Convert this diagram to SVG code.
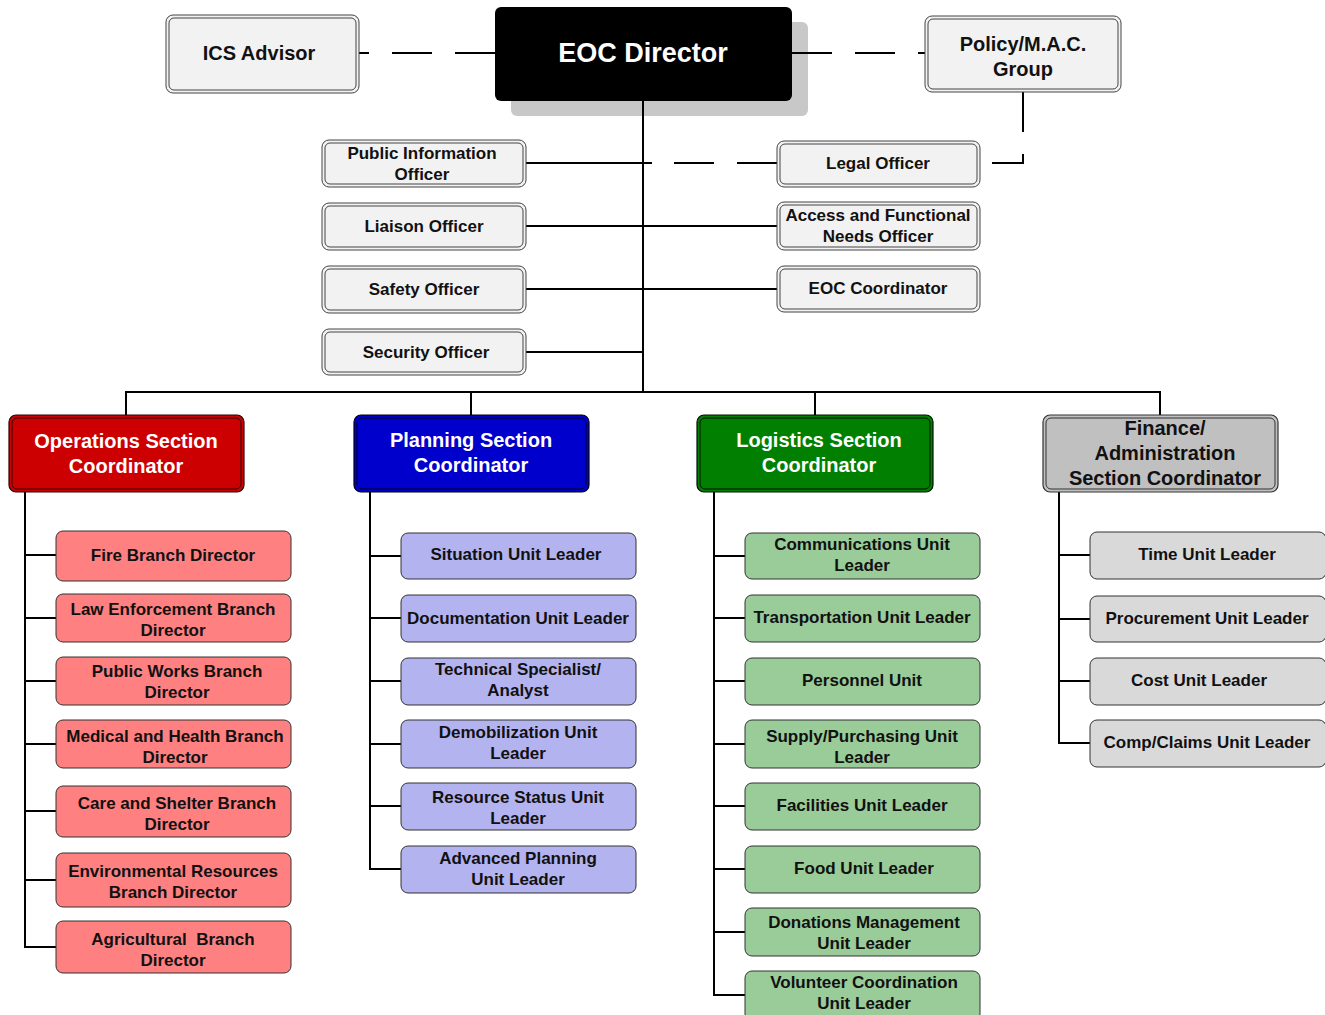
<svg xmlns="http://www.w3.org/2000/svg" width="1325" height="1015" viewBox="0 0 1325 1015">
<style>
text{font-family:"Liberation Sans",Arial,sans-serif;font-weight:bold;text-anchor:middle;fill:#111}
.ln{stroke:#000;stroke-width:2;fill:none}
.dash{stroke:#000;stroke-width:2;fill:none;stroke-dasharray:40 23}
.o1{fill:#f2f2f2;stroke:#444;stroke-width:1}
.o2{fill:none;stroke:#444;stroke-width:1}
.t16{font-size:17px}
.t20{font-size:20px}
.sec{font-size:20px;fill:#fff}
.red{fill:#ff8080;stroke:#333;stroke-width:1}
.blu{fill:#b3b3f0;stroke:#333;stroke-width:1}
.grn{fill:#99cc99;stroke:#333;stroke-width:1}
.gry{fill:#d9d9d9;stroke:#333;stroke-width:1}
</style>
<rect width="1325" height="1015" fill="#fff"/>
<g id="eoc-director">
<rect x="511" y="22" width="297" height="94" rx="6" fill="#c8c8c8"/>
<rect x="495" y="7" width="297" height="94" rx="6" fill="#000"/>
<text x="643" y="62" style="font-size:27px;fill:#fff">EOC Director</text>
</g>
<g id="connectors">
<line class="ln" x1="643" y1="101" x2="643" y2="392"/>
<path class="dash" d="M495 53 H359"/>
<path class="dash" d="M792 53 H925"/>
<path class="dash" d="M1023 92 V163 H992" style="stroke-dasharray:40 22"/>
<line class="ln" x1="526" y1="163" x2="652" y2="163"/>
<path class="dash" d="M777 163 H652"/>
<line class="ln" x1="526" y1="226" x2="777" y2="226"/>
<line class="ln" x1="526" y1="289" x2="777" y2="289"/>
<line class="ln" x1="526" y1="352" x2="643" y2="352"/>
<path class="ln" d="M126 415 V392 H1160 V415"/>
<line class="ln" x1="471" y1="392" x2="471" y2="415"/>
<line class="ln" x1="815" y1="392" x2="815" y2="415"/>
<path class="ln" d="M25 492 V947 H56 M25 555 H56 M25 618 H56 M25 681 H56 M25 744 H56 M25 811 H56 M25 880 H56"/>
<path class="ln" d="M370 492 V869 H401 M370 556 H401 M370 618 H401 M370 681 H401 M370 744 H401 M370 806 H401"/>
<path class="ln" d="M714 492 V995 H745 M714 556 H745 M714 618 H745 M714 681 H745 M714 744 H745 M714 806 H745 M714 869 H745 M714 932 H745"/>
<path class="ln" d="M1059 492 V743 H1090 M1059 555 H1090 M1059 619 H1090 M1059 681 H1090"/>
</g>
<g id="ics-advisor">
<rect class="o1" x="166" y="15" width="193" height="78" rx="7"/>
<rect class="o2" x="169" y="18" width="187" height="72" rx="5"/>
<text class="t20" x="259" y="60">ICS Advisor</text>
</g>
<g id="policy-mac">
<rect class="o1" x="925" y="16" width="196" height="76" rx="7"/>
<rect class="o2" x="928" y="19" width="190" height="70" rx="5"/>
<text class="t20" x="1023" y="51">Policy/M.A.C.</text>
<text class="t20" x="1023" y="76">Group</text>
</g>
<g id="pio">
<rect class="o1" x="322" y="140" width="204" height="47" rx="7"/>
<rect class="o2" x="325" y="143" width="198" height="41" rx="5"/>
<text class="t16" x="422" y="159">Public Information</text>
<text class="t16" x="422" y="180">Officer</text>
</g>
<g id="liaison">
<rect class="o1" x="322" y="203" width="204" height="47" rx="7"/>
<rect class="o2" x="325" y="206" width="198" height="41" rx="5"/>
<text class="t16" x="424" y="232">Liaison Officer</text>
</g>
<g id="safety">
<rect class="o1" x="322" y="266" width="204" height="47" rx="7"/>
<rect class="o2" x="325" y="269" width="198" height="41" rx="5"/>
<text class="t16" x="424" y="295">Safety Officer</text>
</g>
<g id="security">
<rect class="o1" x="322" y="329" width="204" height="46" rx="7"/>
<rect class="o2" x="325" y="332" width="198" height="40" rx="5"/>
<text class="t16" x="426" y="358">Security Officer</text>
</g>
<g id="legal">
<rect class="o1" x="777" y="141" width="203" height="46" rx="7"/>
<rect class="o2" x="780" y="144" width="197" height="40" rx="5"/>
<text class="t16" x="878" y="169">Legal Officer</text>
</g>
<g id="afn">
<rect class="o1" x="777" y="202" width="203" height="48" rx="7"/>
<rect class="o2" x="780" y="205" width="197" height="42" rx="5"/>
<text class="t16" x="878" y="221">Access and Functional</text>
<text class="t16" x="878" y="242">Needs Officer</text>
</g>
<g id="eoc-coordinator">
<rect class="o1" x="777" y="266" width="203" height="46" rx="7"/>
<rect class="o2" x="780" y="269" width="197" height="40" rx="5"/>
<text class="t16" x="878" y="294">EOC Coordinator</text>
</g>
<g id="operations">
<rect x="9" y="415" width="235" height="77" rx="7" fill="#cc0000" stroke="#300" stroke-width="1.2"/>
<rect x="12" y="418" width="229" height="71" rx="5" fill="none" stroke="#300" stroke-width="1"/>
<text class="sec" x="126" y="448">Operations Section</text>
<text class="sec" x="126" y="473">Coordinator</text>
</g>
<g id="planning">
<rect x="354" y="415" width="235" height="77" rx="7" fill="#0000cc" stroke="#001" stroke-width="1.2"/>
<rect x="357" y="418" width="229" height="71" rx="5" fill="none" stroke="#001" stroke-width="1"/>
<text class="sec" x="471" y="447">Planning Section</text>
<text class="sec" x="471" y="472">Coordinator</text>
</g>
<g id="logistics">
<rect x="697" y="415" width="236" height="77" rx="7" fill="#007f00" stroke="#010" stroke-width="1.2"/>
<rect x="700" y="418" width="230" height="71" rx="5" fill="none" stroke="#010" stroke-width="1"/>
<text class="sec" x="819" y="447">Logistics Section</text>
<text class="sec" x="819" y="472">Coordinator</text>
</g>
<g id="finance">
<rect x="1043" y="415" width="235" height="77" rx="7" fill="#c0c0c0" stroke="#333" stroke-width="1.2"/>
<rect x="1046" y="418" width="229" height="71" rx="5" fill="none" stroke="#333" stroke-width="1"/>
<text class="t20" x="1165" y="435">Finance/</text>
<text class="t20" x="1165" y="460">Administration</text>
<text class="t20" x="1165" y="485">Section Coordinator</text>
</g>
<g id="fire"><rect class="red" x="56" y="531" width="235" height="50" rx="7"/><text class="t16" x="173" y="561">Fire Branch Director</text></g>
<g id="law"><rect class="red" x="56" y="594" width="235" height="48" rx="7"/><text class="t16" x="173" y="615">Law Enforcement Branch</text><text class="t16" x="173" y="636">Director</text></g>
<g id="publicworks"><rect class="red" x="56" y="657" width="235" height="48" rx="7"/><text class="t16" x="177" y="677">Public Works Branch</text><text class="t16" x="177" y="698">Director</text></g>
<g id="medical"><rect class="red" x="56" y="720" width="235" height="48" rx="7"/><text class="t16" x="175" y="742">Medical and Health Branch</text><text class="t16" x="175" y="763">Director</text></g>
<g id="care"><rect class="red" x="56" y="786" width="235" height="51" rx="7"/><text class="t16" x="177" y="809">Care and Shelter Branch</text><text class="t16" x="177" y="830">Director</text></g>
<g id="environmental"><rect class="red" x="56" y="853" width="235" height="54" rx="7"/><text class="t16" x="173" y="877">Environmental Resources</text><text class="t16" x="173" y="898">Branch Director</text></g>
<g id="agricultural"><rect class="red" x="56" y="921" width="235" height="52" rx="7"/><text class="t16" x="173" y="945" xml:space="preserve">Agricultural  Branch</text><text class="t16" x="173" y="966">Director</text></g>
<g id="situation"><rect class="blu" x="401" y="533" width="235" height="46" rx="7"/><text class="t16" x="516" y="560">Situation Unit Leader</text></g>
<g id="documentation"><rect class="blu" x="401" y="595" width="235" height="47" rx="7"/><text class="t16" x="518" y="624">Documentation Unit Leader</text></g>
<g id="technical"><rect class="blu" x="401" y="658" width="235" height="47" rx="7"/><text class="t16" x="518" y="675">Technical Specialist/</text><text class="t16" x="518" y="696">Analyst</text></g>
<g id="demob"><rect class="blu" x="401" y="720" width="235" height="48" rx="7"/><text class="t16" x="518" y="738">Demobilization Unit</text><text class="t16" x="518" y="759">Leader</text></g>
<g id="resource"><rect class="blu" x="401" y="783" width="235" height="47" rx="7"/><text class="t16" x="518" y="803">Resource Status Unit</text><text class="t16" x="518" y="824">Leader</text></g>
<g id="advanced"><rect class="blu" x="401" y="846" width="235" height="47" rx="7"/><text class="t16" x="518" y="864">Advanced Planning</text><text class="t16" x="518" y="885">Unit Leader</text></g>
<g id="communications"><rect class="grn" x="745" y="533" width="235" height="46" rx="7"/><text class="t16" x="862" y="550">Communications Unit</text><text class="t16" x="862" y="571">Leader</text></g>
<g id="transportation"><rect class="grn" x="745" y="595" width="235" height="47" rx="7"/><text class="t16" x="862" y="623">Transportation Unit Leader</text></g>
<g id="personnel"><rect class="grn" x="745" y="658" width="235" height="47" rx="7"/><text class="t16" x="862" y="686">Personnel Unit</text></g>
<g id="supply"><rect class="grn" x="745" y="720" width="235" height="48" rx="7"/><text class="t16" x="862" y="742">Supply/Purchasing Unit</text><text class="t16" x="862" y="763">Leader</text></g>
<g id="facilities"><rect class="grn" x="745" y="783" width="235" height="47" rx="7"/><text class="t16" x="862" y="811">Facilities Unit Leader</text></g>
<g id="food"><rect class="grn" x="745" y="846" width="235" height="47" rx="7"/><text class="t16" x="864" y="874">Food Unit Leader</text></g>
<g id="donations"><rect class="grn" x="745" y="908" width="235" height="48" rx="7"/><text class="t16" x="864" y="928">Donations Management</text><text class="t16" x="864" y="949">Unit Leader</text></g>
<g id="volunteer"><rect class="grn" x="745" y="971" width="235" height="50" rx="7"/><text class="t16" x="864" y="988">Volunteer Coordination</text><text class="t16" x="864" y="1009">Unit Leader</text></g>
<g id="time"><rect class="gry" x="1090" y="532" width="236" height="47" rx="7"/><text class="t16" x="1207" y="560">Time Unit Leader</text></g>
<g id="procurement"><rect class="gry" x="1090" y="596" width="236" height="46" rx="7"/><text class="t16" x="1207" y="624">Procurement Unit Leader</text></g>
<g id="cost"><rect class="gry" x="1090" y="658" width="236" height="47" rx="7"/><text class="t16" x="1199" y="686">Cost Unit Leader</text></g>
<g id="compclaims"><rect class="gry" x="1090" y="720" width="236" height="47" rx="7"/><text class="t16" x="1207" y="748">Comp/Claims Unit Leader</text></g>
</svg>
